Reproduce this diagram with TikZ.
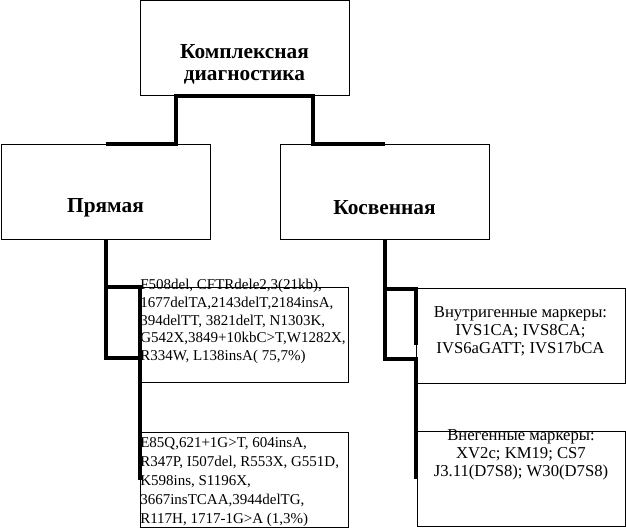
\documentclass[tikz,border=0pt]{standalone}
\usepackage{fontspec}
\setmainfont{Liberation Serif}
\tikzset{
  box/.style={draw, line width=0.75pt, inner sep=0pt, minimum width=156.75pt, minimum height=71.25pt},
  link/.style={line width=3pt},
  headtext/.style={font=\fontsize{16}{16.5}\selectfont\bfseries, align=center, inner sep=0.75pt},
  muttext/.style={align=left, inner sep=0pt, anchor=north west},
  markertext/.style={font=\fontsize{12.5}{13.5}\selectfont, align=center, inner sep=0pt},
}
\begin{document}
\begin{tikzpicture}[x=0.75pt,y=0.75pt,yscale=-1,xscale=1]
        \useasboundingbox (0,0) rectangle (626,530);
        %Shape: Rectangle
        \draw (244.5,48.5) node [box] (diag) {};
        %Shape: Rectangle
        \draw (105.5,192) node [box] (pryam) {};
        %Shape: Rectangle
        \draw (384.5,192) node [box] (kosv) {};
        %Shape: Rectangle
        \draw (244,335.5) node [box, minimum width=156pt] (mutA) {};
        %Shape: Rectangle
        \draw (244,480.5) node [box, minimum width=156pt] (mutB) {};
        %Shape: Rectangle
        \draw (520.5,336.5) node [box] (intr) {};
        %Shape: Rectangle
        \draw (521,479.5) node [box, minimum width=156pt] (extr) {};

        % Text Node
        \draw (244.5,64) node [headtext] (diagtxt) {Комплексная\\диагностика};
        % Text Node
        \draw (105.5,208) node [headtext] (pryamtxt) {Прямая};
        % Text Node
        \draw (384.5,208) node [headtext] (kosvtxt) {Косвенная};
        % Text Node
        \draw (140,279) node [muttext, font=\fontsize{11.25}{13.3}\selectfont] (mutAtxt) {F508del, CFTRdele2,3(21kb),\\1677delTA,2143delT,2184insA,\\394delTT, 3821delT, N1303K,\\G542X,3849+10kbC>T,W1282X,\\R334W, L138insA( 75,7\%)};
        % Text Node
        \draw (140,437) node [muttext, font=\fontsize{11.25}{14.25}\selectfont] (mutBtxt) {E85Q,621+1G>T, 604insA,\\R347P, I507del, R553X, G551D,\\K598ins, S1196X,\\3667insTCAA,3944delTG,\\R117H, 1717-1G>A (1,3\%)};
        % Text Node
        \draw (520.5,331) node [markertext] (intrtxt) {Внутригенные маркеры:\\IVS1CA; IVS8CA;\\IVS6aGATT; IVS17bCA};
        % Text Node
        \draw (521,455) node [markertext] (extrtxt) {Внегенные маркеры:\\XV2c; KM19; CS7\\J3.11(D7S8); W30(D7S8)};

        % connectors
        \coordinate (jl) at (176,96);
        \coordinate (jr) at (313,96);
        \draw [link] (pryam.north) -- (pryam.north -| jl) -- (jl) -- (jr) -- (jr |- kosv.north) -- (kosv.north);
        \path (pryam.south) ++(0,47) coordinate (la) ++(0,71) coordinate (lb);
        \draw [link] (pryam.south) -- (lb) -- (lb -| mutA.west);
        \draw [link] (la) -- (la -| mutA.west) -- (mutA.west |- mutB.west);
        \path (kosv.south) ++(0,49) coordinate (ra) ++(0,70) coordinate (rb);
        \draw [link] (kosv.south) -- (rb) -- (rb -| intr.west) -- (intr.west |- extr.west);
        \draw [link] (ra) -- (ra -| intr.west) -- ++(0,56);
\end{tikzpicture}
\end{document}
